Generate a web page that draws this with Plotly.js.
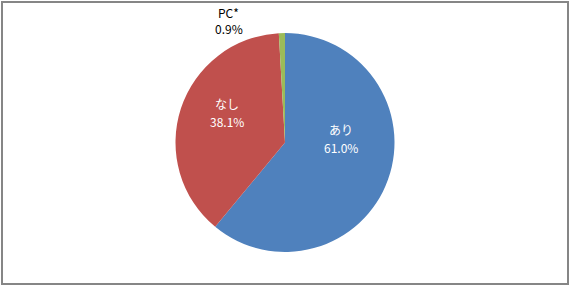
<!DOCTYPE html>
<html>
<head>
<meta charset="utf-8">
<script src="https://cdn.plot.ly/plotly-3.0.1.min.js"></script>
<style>
  html, body { margin: 0; padding: 0; background: #fff; }
  #frame { position: absolute; left: 1px; top: 1px; width: 568px; height: 284px; box-sizing: border-box; border: 2px solid #868686; pointer-events: none; z-index: 10; }
  #chart { position: absolute; left: 0; top: 0; width: 570px; height: 286px; }
</style>
</head>
<body>
<div id="chart"></div>
<div id="frame"></div>
<script>
const categories = ["あり", "なし", "PC*"];
const values = [61.0, 38.1, 0.9];
const colors = ["#4F81BD", "#C0504D", "#9BBB59"];

// label placement (pixel centres of name line and percent line), styling only
const W = 570, H = 286, MT = 33, MB = 34;
const labelPos = [
  { x: 341, yName: 129, yPct: 147.5, color: "#ffffff" },
  { x: 226.5, yName: 103, yPct: 121.5, color: "#ffffff" },
  { x: 228.5, yName: 12, yPct: 28, color: "#000000" }
];
const plotH = H - MT - MB;
const px2x = px => px / W;
const py2y = py => (H - MB - py) / plotH;
const font = { size: 12, family: "Noto Sans CJK JP, Open Sans, sans-serif" };

const annotations = [];
categories.forEach((c, i) => {
  const p = labelPos[i];
  annotations.push({
    text: c, xref: "paper", yref: "paper", x: px2x(p.x), y: py2y(p.yName),
    xanchor: "center", yanchor: "middle", showarrow: false,
    font: Object.assign({ color: p.color }, font)
  });
  annotations.push({
    text: values[i].toFixed(1) + "%", xref: "paper", yref: "paper", x: px2x(p.x), y: py2y(p.yPct),
    xanchor: "center", yanchor: "middle", showarrow: false,
    font: Object.assign({ color: p.color }, font)
  });
});

const trace = {
  type: "pie",
  labels: categories,
  values: values,
  sort: false,
  direction: "clockwise",
  rotation: 0,
  marker: { colors: colors, line: { width: 0 } },
  textinfo: "none",
  hoverinfo: "none",
  showlegend: false
};

const layout = {
  width: W,
  height: H,
  margin: { l: 0, r: 0, t: MT, b: MB },
  paper_bgcolor: "#ffffff",
  showlegend: false,
  annotations: annotations
};

Plotly.newPlot("chart", [trace], layout, { staticPlot: true });
</script>
</body>
</html>
